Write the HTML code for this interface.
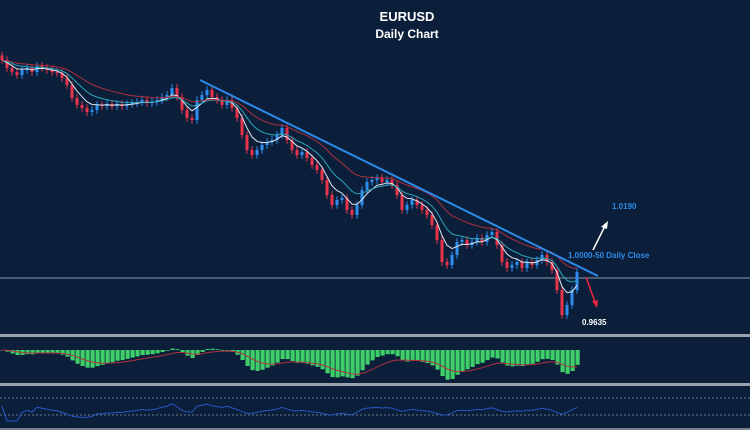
<!DOCTYPE html>
<html><head><meta charset="utf-8"><style>
html,body{margin:0;padding:0;background:#0b1f3a;}
svg{display:block;font-family:"Liberation Sans",sans-serif;}
</style></head><body>
<svg id="c" width="750" height="430" viewBox="0 0 750 430">
<rect x="0" y="0" width="750" height="430" fill="#0b1f3a"/>
<text x="407" y="21" fill="#fff" font-size="13" font-weight="bold" text-anchor="middle">EURUSD</text>
<text x="407" y="38" fill="#fff" font-size="12" font-weight="bold" text-anchor="middle">Daily Chart</text>
<line x1="0" y1="278" x2="750" y2="278" stroke="#8a9aaa" stroke-width="1"/>
<rect x="0" y="334" width="750" height="3" fill="#9aa3ad"/>
<rect x="0" y="383" width="750" height="3" fill="#9aa3ad"/>
<line x1="0" y1="398" x2="750" y2="398" stroke="#8a9aaa" stroke-dasharray="2,2" stroke-width="0.8"/>
<line x1="0" y1="415" x2="750" y2="415" stroke="#8a9aaa" stroke-dasharray="2,2" stroke-width="0.8"/>
<line x1="0" y1="429" x2="750" y2="429" stroke="#9aa3ad" stroke-width="1.5"/>
<g id="candles"></g>
<g id="mas"></g>
<g id="macd"></g>
<g id="rsi"></g>
<line x1="200" y1="80" x2="598" y2="276" stroke="#2d8ae8" stroke-width="2"/>
<text x="612" y="209" fill="#2d8ae8" font-size="8" font-weight="bold">1.0190</text>
<text x="568" y="258" fill="#2d8ae8" font-size="8" font-weight="bold">1.0000-50 Daily Close</text>
<text x="582" y="325" fill="#fff" font-size="8" font-weight="bold">0.9635</text>
<g><line x1="593" y1="250" x2="605" y2="226" stroke="#fff" stroke-width="1.5"/><polygon points="608,221 601,227 607,229" fill="#fff"/></g>
<g><line x1="586" y1="277" x2="595" y2="302" stroke="#e8283a" stroke-width="1.5"/><polygon points="597,308 592,301 598,300" fill="#e8283a"/></g>
</svg>
<script>
const closes=[1.1744,1.168,1.1648,1.1624,1.1664,1.168,1.1648,1.1696,1.168,1.1664,1.1648,1.164,1.16,1.1544,1.144,1.1384,1.136,1.1328,1.1344,1.1384,1.1376,1.1392,1.1376,1.1392,1.1376,1.1392,1.14,1.1408,1.1424,1.14,1.1408,1.1424,1.1448,1.1464,1.152,1.1448,1.1344,1.128,1.1264,1.1424,1.1464,1.1504,1.1448,1.1424,1.1384,1.1424,1.136,1.128,1.1144,1.1024,1.0984,1.1024,1.1064,1.1088,1.1104,1.1144,1.12,1.1104,1.1024,1.0984,1.1008,1.096,1.0904,1.0864,1.0784,1.0664,1.0584,1.0624,1.064,1.0544,1.0504,1.0584,1.0704,1.0768,1.0784,1.08,1.0768,1.0784,1.0744,1.0664,1.0544,1.0584,1.0624,1.0584,1.0544,1.0504,1.0424,1.0304,1.0128,1.0104,1.0184,1.0288,1.0304,1.0264,1.0288,1.032,1.0288,1.0344,1.0368,1.0264,1.0128,1.008,1.0104,1.0128,1.008,1.0128,1.0104,1.0144,1.0184,1.0128,1.0064,0.9904,0.9704,0.9784,0.9904,1.0048];
const firstOpen=1.178;
const NS='http://www.w3.org/2000/svg';
const xOf=i=>2+i*5;
const yOf=p=>278-(p-1)/0.0008;
function mk(t,a,parent){const e=document.createElementNS(NS,t);for(const k in a)e.setAttribute(k,a[k]);parent.appendChild(e);return e;}
const cg=document.getElementById('candles');
closes.forEach((c,i)=>{
  const o=i?closes[i-1]:firstOpen;
  const up=c>=o;const col=up?'#2f8cf0':'#e8334a';
  const hi=Math.max(o,c)+0.003,lo=Math.min(o,c)-0.003;
  const w=mk('line',{x1:xOf(i),x2:xOf(i),y1:yOf(hi),y2:yOf(lo),stroke:col,'stroke-width':1},cg);
  
  
  const top=yOf(Math.max(o,c)),h=Math.max(1,yOf(Math.min(o,c))-top);
  const b=mk('rect',{x:xOf(i)-1.5,y:top,width:3,height:h,fill:col},cg);
  
  
});
function ema(arr,n){const k=2/(n+1);const r=[];arr.forEach((v,i)=>r.push(i?r[i-1]+k*(v-r[i-1]):v));return r;}
function path(vals,fx,fy){return vals.map((v,i)=>(i?'L':'M')+fx(i).toFixed(1)+','+fy(v).toFixed(1)).join('');}
const mg=document.getElementById('mas');
[[5,'#e0e6ee'],[10,'#2aa6b8'],[20,'#b0303e']].forEach(([n,col])=>{
  const p=mk('path',{d:path(ema(closes,n),xOf,yOf),stroke:col,fill:'none','stroke-width':1},mg);
  
  
});
const e5=ema(closes,5),e20=ema(closes,20);
const osc=e5.map((v,i)=>v-e20[i]);
const sig=ema(osc,9);
const yM=v=>Math.max(344,Math.min(380,350-v*1100));
const mgp=document.getElementById('macd');
osc.forEach((v,i)=>{
  const y1=Math.min(350,yM(v)),y2=Math.max(350,yM(v));
  const r=mk('rect',{x:xOf(i)-1.5,y:y1,width:4.2,height:Math.max(0.5,y2-y1),fill:'#3fcf6a'},mgp);
  
  
});
const sp=mk('path',{d:path(sig,xOf,yM),stroke:'#b0303e',fill:'none','stroke-width':1},mgp);


const rsi=[];let ag=0,al=0;
closes.forEach((c,i)=>{if(!i){rsi.push(50);return;}const d=c-closes[i-1];ag=(ag*13+Math.max(d,0))/14;al=(al*13+Math.max(-d,0))/14;rsi.push(al===0?70:100-100/(1+ag/al));});
const yR=v=>421-v*0.3;
const rp=mk('path',{d:path(rsi,xOf,yR),stroke:'#2a56c8',fill:'none','stroke-width':1},document.getElementById('rsi'));


</script>
</body></html>
